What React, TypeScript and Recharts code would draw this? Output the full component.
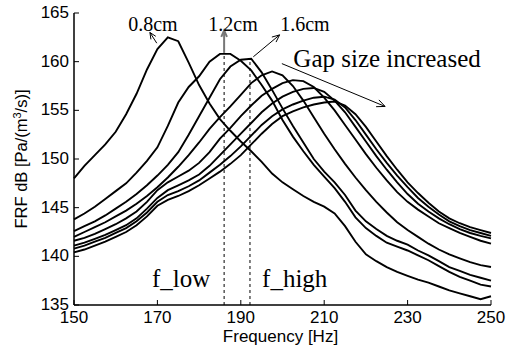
import React from 'react';
import { LineChart, Line, XAxis, YAxis, ReferenceLine, ReferenceDot } from 'recharts';

// Frequency grid [Hz]
const freq = [
  150, 152.5, 155, 157.5, 160, 162.5, 165, 167.5, 170, 172.5,
  175, 177.5, 180, 182.5, 185, 187.5, 190, 192.5, 195, 197.5,
  200, 202.5, 205, 207.5, 210, 212.5, 215, 217.5, 220, 222.5,
  225, 227.5, 230, 232.5, 235, 237.5, 240, 242.5, 245, 247.5, 250,
];

// FRF dB for each gap size (0.8cm ... largest gap)
const gap08 = [
  148.0, 149.3, 150.4, 151.5, 152.8, 154.6, 156.7, 159.2, 161.3, 162.5,
  162.1, 159.9, 157.6, 155.7, 154.1, 152.9, 151.8, 150.8, 149.7, 148.5,
  147.6, 146.9, 146.2, 145.6, 145.1, 144.4, 143.1, 141.5, 140.2, 139.5,
  138.9, 138.4, 138.0, 137.6, 137.3, 136.9, 136.5, 136.2, 135.9, 135.6, 135.9,
];
const gap12 = [
  143.8, 144.4, 145.1, 145.9, 146.7, 147.5, 148.6, 149.8, 151.2, 153.4,
  155.8, 157.4, 158.5, 160.0, 160.8, 160.8, 160.1, 159.1, 157.6, 156.0,
  154.0, 152.3, 150.8, 149.4, 148.2, 147.0, 145.6, 144.0, 142.9, 142.1,
  141.4, 141.0, 140.6, 140.1, 139.6, 139.0, 138.4, 137.9, 137.5, 137.1, 136.9,
];
const gap16 = [
  142.6, 143.1, 143.6, 144.2, 144.9, 145.6, 146.4, 147.3, 148.3, 149.4,
  150.7, 152.5, 154.4, 156.3, 158.2, 159.5, 160.2, 160.3, 158.9, 157.1,
  155.2, 153.4, 151.7, 150.0, 148.7, 147.6, 146.3, 144.7, 143.6, 142.8,
  142.1, 141.6, 141.2, 140.6, 140.1, 139.5, 138.9, 138.5, 138.1, 137.8, 137.5,
];
const gap4 = [
  142.0, 142.5, 143.0, 143.5, 144.1, 144.7, 145.4, 146.2, 147.1, 148.1,
  149.2, 150.4, 151.7, 153.1, 154.3, 155.4, 156.6, 157.8, 158.6, 159.0,
  158.6, 157.5, 156.0, 154.3, 152.6, 151.0, 149.5, 148.1, 146.8, 145.6,
  144.5, 143.5, 142.7, 142.0, 141.3, 140.7, 140.2, 139.8, 139.4, 139.1, 138.9,
];
const gap5 = [
  141.6, 141.9, 142.3, 142.8, 143.3, 143.9, 144.6, 145.6, 146.8, 147.6,
  148.2, 148.8, 149.6, 150.7, 152.1, 153.2, 154.4, 155.5, 156.5, 157.2,
  157.8, 158.1, 158.0, 157.4, 156.3, 155.0, 153.5, 152.0, 150.5, 149.1,
  147.8, 146.6, 145.6, 144.8, 144.1, 143.4, 142.9, 142.4, 142.0, 141.6, 141.3,
];
const gap6 = [
  141.1, 141.4, 141.8, 142.2, 142.7, 143.2, 143.9, 144.9, 146.0, 146.8,
  147.3, 147.8, 148.4, 149.3, 150.4, 151.5, 152.6, 153.7, 154.8, 155.7,
  156.4, 156.9, 157.2, 157.3, 156.9, 156.0, 154.8, 153.3, 151.8, 150.3,
  148.9, 147.6, 146.4, 145.4, 144.6, 143.9, 143.3, 142.8, 142.4, 142.1, 141.85,
];
const gap7 = [
  140.8, 141.1, 141.5, 141.9, 142.4, 142.9, 143.6, 144.5, 145.6, 146.3,
  146.7, 147.2, 147.8, 148.6, 149.4, 150.3, 151.3, 152.4, 153.5, 154.4,
  155.1, 155.6, 156.0, 156.3, 156.4, 156.1, 155.3, 154.0, 152.5, 151.0,
  149.6, 148.3, 147.1, 146.0, 145.1, 144.3, 143.6, 143.1, 142.7, 142.4, 142.1,
];
const gap8 = [
  140.4, 140.7, 141.1, 141.5, 142.0, 142.5, 143.2, 144.1, 145.2, 145.8,
  146.2, 146.7, 147.3, 148.0, 148.7, 149.5, 150.4, 151.5, 152.6, 153.6,
  154.4, 154.9, 155.3, 155.6, 155.8, 155.9, 155.5, 154.6, 153.3, 151.8,
  150.3, 148.9, 147.6, 146.5, 145.5, 144.6, 143.9, 143.4, 143.0, 142.7, 142.4,
];

const seriesKeys = ['g08', 'g12', 'g16', 'g4', 'g5', 'g6', 'g7', 'g8'];
const seriesValues = [gap08, gap12, gap16, gap4, gap5, gap6, gap7, gap8];

const xTicks = [150, 170, 190, 210, 230, 250];
const yTicks = [135, 140, 145, 150, 155, 160, 165];

const data = freq.map((f, i) => {
  const row: Record<string, number> = { f };
  seriesKeys.forEach((k, j) => {
    row[k] = seriesValues[j][i];
  });
  return row;
});

const SANS = '"Liberation Sans", Arial, Helvetica, sans-serif';
const SERIF = '"Liberation Serif", "Times New Roman", Times, serif';

const BottomTick = (props: any) => {
  const { x, y, payload } = props;
  return (
    <g>
      <line x1={x} y1={y} x2={x} y2={y - 5} stroke="#000" strokeWidth={1} />
      <text x={x} y={y + 18} textAnchor="middle" fontSize={17} fontFamily={SANS} fill="#000">
        {payload.value}
      </text>
    </g>
  );
};
const LeftTick = (props: any) => {
  const { x, y, payload } = props;
  return (
    <g>
      <line x1={x} y1={y} x2={x + 5} y2={y} stroke="#000" strokeWidth={1} />
      <text x={x - 5} y={y + 5} textAnchor="end" fontSize={17} fontFamily={SANS} fill="#000">
        {payload.value}
      </text>
    </g>
  );
};
const TopTick = (props: any) => {
  const { x, y } = props;
  return <line x1={x} y1={y} x2={x} y2={y + 5} stroke="#000" strokeWidth={1} />;
};
const RightTick = (props: any) => {
  const { x, y } = props;
  return <line x1={x} y1={y} x2={x - 5} y2={y} stroke="#000" strokeWidth={1} />;
};

const arrowShape = (color: string, width: number, head: number) => (p: any) => {
  const { x1, y1, x2, y2 } = p;
  const a = Math.atan2(y2 - y1, x2 - x1);
  const s = 0.42;
  const hx1 = x2 - head * Math.cos(a - s);
  const hy1 = y2 - head * Math.sin(a - s);
  const hx2 = x2 - head * Math.cos(a + s);
  const hy2 = y2 - head * Math.sin(a + s);
  return (
    <g>
      <line x1={x1} y1={y1} x2={x2} y2={y2} stroke={color} strokeWidth={width} />
      <polyline
        points={`${hx1},${hy1} ${x2},${y2} ${hx2},${hy2}`}
        fill="none"
        stroke={color}
        strokeWidth={width}
      />
    </g>
  );
};

const textShape = (text: string, size: number) => (p: any) => (
  <text x={p.cx} y={p.cy} fontSize={size} fontFamily={SERIF} fill="#000" textAnchor="start">
    {text}
  </text>
);

const YLabel = (p: any) => {
  const vb = p.viewBox || { x: 0, y: 13, width: 74, height: 292 };
  const cy = vb.y + vb.height / 2;
  return (
    <text
      transform={`translate(26.5,${cy}) rotate(-90)`}
      textAnchor="middle"
      fontSize={16.5}
      fontFamily={SANS}
      fill="#000"
    >
      FRF dB [Pa/(m
      <tspan fontSize={11} dy={-6}>3</tspan>
      <tspan dy={6}>/s)]</tspan>
    </text>
  );
};

const XLabel = (p: any) => {
  const vb = p.viewBox || { x: 74, y: 305, width: 417, height: 47 };
  return (
    <text
      x={vb.x + vb.width / 2 - 2}
      y={342}
      textAnchor="middle"
      fontSize={17}
      fontFamily={SANS}
      fill="#000"
    >
      Frequency [Hz]
    </text>
  );
};

export default function App() {
  return (
    <div style={{ position: 'absolute', left: 0, top: 0, background: '#fff' }}>
      <LineChart
        width={519}
        height={352}
        data={data}
        margin={{ top: 13, right: 28, bottom: 0, left: 0 }}
      >
        <XAxis
          xAxisId="b"
          dataKey="f"
          type="number"
          domain={[150, 250]}
          ticks={xTicks}
          interval={0}
          height={47}
          tickSize={0}
          tickMargin={0}
          tickLine={false}
          tick={<BottomTick />}
          axisLine={{ stroke: '#000', strokeWidth: 1.5 }}
          label={XLabel}
        />
        <XAxis
          xAxisId="t"
          orientation="top"
          dataKey="f"
          type="number"
          domain={[150, 250]}
          ticks={xTicks}
          interval={0}
          height={0}
          tickSize={0}
          tickMargin={0}
          tickLine={false}
          tick={<TopTick />}
          axisLine={{ stroke: '#000', strokeWidth: 1.5 }}
        />
        <YAxis
          yAxisId="l"
          type="number"
          domain={[135, 165]}
          ticks={yTicks}
          interval={0}
          width={74}
          tickSize={0}
          tickMargin={0}
          tickLine={false}
          tick={<LeftTick />}
          axisLine={{ stroke: '#000', strokeWidth: 1.5 }}
          label={YLabel}
        />
        <YAxis
          yAxisId="r"
          orientation="right"
          type="number"
          domain={[135, 165]}
          ticks={yTicks}
          interval={0}
          width={0}
          tickSize={0}
          tickMargin={0}
          tickLine={false}
          tick={<RightTick />}
          axisLine={{ stroke: '#000', strokeWidth: 1.5 }}
        />

        {seriesKeys.map((k) => (
          <Line
            key={k}
            xAxisId="b"
            yAxisId="l"
            dataKey={k}
            type="linear"
            stroke="#000"
            strokeWidth={1.9}
            dot={false}
            activeDot={false}
            isAnimationActive={false}
          />
        ))}

        {/* f_low / f_high dashed markers */}
        <ReferenceLine
          xAxisId="b"
          yAxisId="l"
          segment={[{ x: 186, y: 135 }, { x: 186, y: 160.9 }]}
          stroke="#000"
          strokeWidth={1}
          strokeDasharray="3 3"
        />
        <ReferenceLine
          xAxisId="b"
          yAxisId="l"
          segment={[{ x: 192.2, y: 135 }, { x: 192.2, y: 160.35 }]}
          stroke="#000"
          strokeWidth={1}
          strokeDasharray="3 3"
        />

        {/* arrows */}
        <ReferenceLine
          xAxisId="b"
          yAxisId="l"
          segment={[{ x: 169.85, y: 161.9 }, { x: 168.2, y: 163.0 }]}
          shape={arrowShape('#000', 1, 7)}
        />
        <ReferenceLine
          xAxisId="b"
          yAxisId="l"
          segment={[{ x: 186, y: 160.9 }, { x: 186, y: 163.2 }]}
          shape={arrowShape('#777', 2, 7)}
        />
        <ReferenceLine
          xAxisId="b"
          yAxisId="l"
          segment={[{ x: 193.0, y: 160.5 }, { x: 199.3, y: 162.75 }]}
          shape={arrowShape('#000', 1, 8)}
        />
        <ReferenceLine
          xAxisId="b"
          yAxisId="l"
          segment={[{ x: 199.85, y: 159.8 }, { x: 224.6, y: 155.4 }]}
          shape={arrowShape('#000', 1, 9)}
        />

        {/* text annotations */}
        <ReferenceDot xAxisId="b" yAxisId="l" x={163.0} y={163.15} r={1} shape={textShape('0.8cm', 20)} />
        <ReferenceDot xAxisId="b" yAxisId="l" x={182.2} y={163.15} r={1} shape={textShape('1.2cm', 20)} />
        <ReferenceDot xAxisId="b" yAxisId="l" x={199.45} y={163.1} r={1} shape={textShape('1.6cm', 20)} />
        <ReferenceDot xAxisId="b" yAxisId="l" x={202.6} y={159.45} r={1} shape={textShape('Gap size increased', 25)} />
        <ReferenceDot xAxisId="b" yAxisId="l" x={168.7} y={136.85} r={1} shape={textShape('f_low', 25)} />
        <ReferenceDot xAxisId="b" yAxisId="l" x={195.1} y={136.85} r={1} shape={textShape('f_high', 25)} />
      </LineChart>
    </div>
  );
}
